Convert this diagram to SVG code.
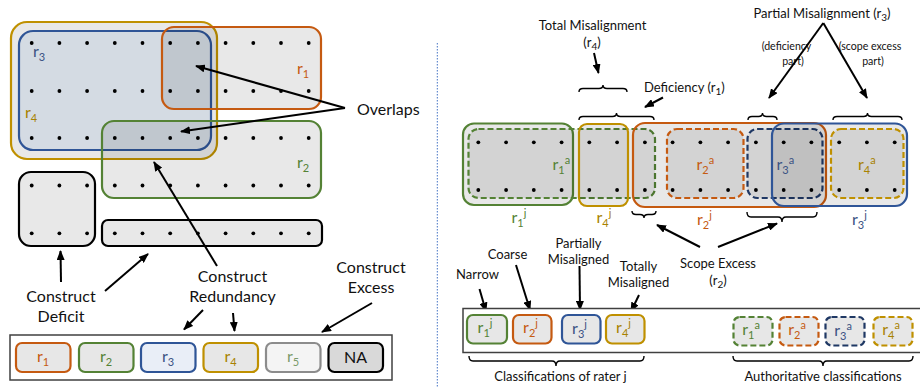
<svg xmlns="http://www.w3.org/2000/svg" width="920" height="390" viewBox="0 0 920 390">
<defs>
<marker id="ah" markerUnits="userSpaceOnUse" markerWidth="10" markerHeight="8" refX="9" refY="4" orient="auto">
<path d="M0,0 L10,4 L0,8 z" fill="#000"/>
</marker>
<style>
text{font-family:Lato,"Liberation Sans",sans-serif;fill:#111}
.t16{font-size:16px}
.t13{font-size:13px}
.t10{font-size:10px}
.small{font-size:10.6px}
.sub{font-size:11px}
.shade{fill:#000;fill-opacity:0.09}
.dot{fill:#000}
.arr{stroke:#000;stroke-width:2;fill:none;marker-end:url(#ah)}
.brace{stroke:#000;stroke-width:1.4;fill:none}
.or{stroke:#c55a11;stroke-width:2.2}
.gr{stroke:#548235;stroke-width:2.2}
.bl{stroke:#2f5597;stroke-width:2.2}
.go{stroke:#bf9000;stroke-width:2.2}
.nv{stroke:#1f3864;stroke-width:2.2}
.dash{stroke-dasharray:6,3}
.leg{fill:#e7e7e7}
.cor{fill:#c55a11}.cgr{fill:#548235}.cbl{fill:#3b5283}.cgo{fill:#a88200}
</style>
</defs>

<!-- LEFT PANEL -->
<g id="r4-region"><rect x="11" y="22" width="206" height="137" rx="16" class="shade go"/></g>
<g id="r3-region"><rect x="19" y="31" width="192" height="119" rx="14" fill="rgb(172,192,219)" fill-opacity="0.32" class="bl"/></g>
<g id="r1-region"><rect x="162" y="27" width="159" height="82" rx="12" class="shade or"/></g>
<g id="r2-region"><rect x="102" y="121" width="219" height="77" rx="12" class="shade gr"/></g>
<g id="deficit-box"><rect x="19" y="172" width="76" height="74" rx="12" fill="#e8e8e8" stroke="#000" stroke-width="2.2"/></g>
<g id="excess-bar"><rect x="102" y="220" width="220" height="26" rx="6" fill="#e8e8e8" stroke="#000" stroke-width="2.2"/></g>

<g id="left-dots">
<g transform="translate(0,43)">
<circle class="dot" cx="31.7" cy="0" r="1.9"/><circle class="dot" cx="59.4" cy="0" r="1.9"/><circle class="dot" cx="87.1" cy="0" r="1.9"/><circle class="dot" cx="114.8" cy="0" r="1.9"/><circle class="dot" cx="142.5" cy="0" r="1.9"/><circle class="dot" cx="170.2" cy="0" r="1.9"/><circle class="dot" cx="197.9" cy="0" r="1.9"/><circle class="dot" cx="225.6" cy="0" r="1.9"/><circle class="dot" cx="253.3" cy="0" r="1.9"/><circle class="dot" cx="281" cy="0" r="1.9"/><circle class="dot" cx="308.7" cy="0" r="1.9"/>
</g>
<g transform="translate(0,91)">
<circle class="dot" cx="31.7" cy="0" r="1.9"/><circle class="dot" cx="59.4" cy="0" r="1.9"/><circle class="dot" cx="87.1" cy="0" r="1.9"/><circle class="dot" cx="114.8" cy="0" r="1.9"/><circle class="dot" cx="142.5" cy="0" r="1.9"/><circle class="dot" cx="170.2" cy="0" r="1.9"/><circle class="dot" cx="197.9" cy="0" r="1.9"/><circle class="dot" cx="225.6" cy="0" r="1.9"/><circle class="dot" cx="253.3" cy="0" r="1.9"/><circle class="dot" cx="281" cy="0" r="1.9"/><circle class="dot" cx="308.7" cy="0" r="1.9"/>
</g>
<g transform="translate(0,138)">
<circle class="dot" cx="31.7" cy="0" r="1.9"/><circle class="dot" cx="59.4" cy="0" r="1.9"/><circle class="dot" cx="87.1" cy="0" r="1.9"/><circle class="dot" cx="114.8" cy="0" r="1.9"/><circle class="dot" cx="142.5" cy="0" r="1.9"/><circle class="dot" cx="170.2" cy="0" r="1.9"/><circle class="dot" cx="197.9" cy="0" r="1.9"/><circle class="dot" cx="225.6" cy="0" r="1.9"/><circle class="dot" cx="253.3" cy="0" r="1.9"/><circle class="dot" cx="281" cy="0" r="1.9"/><circle class="dot" cx="308.7" cy="0" r="1.9"/>
</g>
<g transform="translate(0,185.5)">
<circle class="dot" cx="31.7" cy="0" r="1.9"/><circle class="dot" cx="59.4" cy="0" r="1.9"/><circle class="dot" cx="87.1" cy="0" r="1.9"/><circle class="dot" cx="114.8" cy="0" r="1.9"/><circle class="dot" cx="142.5" cy="0" r="1.9"/><circle class="dot" cx="170.2" cy="0" r="1.9"/><circle class="dot" cx="197.9" cy="0" r="1.9"/><circle class="dot" cx="225.6" cy="0" r="1.9"/><circle class="dot" cx="253.3" cy="0" r="1.9"/><circle class="dot" cx="281" cy="0" r="1.9"/><circle class="dot" cx="308.7" cy="0" r="1.9"/>
</g>
<g transform="translate(0,233.3)">
<circle class="dot" cx="31.7" cy="0" r="1.9"/><circle class="dot" cx="59.4" cy="0" r="1.9"/><circle class="dot" cx="87.1" cy="0" r="1.9"/><circle class="dot" cx="114.8" cy="0" r="1.9"/><circle class="dot" cx="142.5" cy="0" r="1.9"/><circle class="dot" cx="170.2" cy="0" r="1.9"/><circle class="dot" cx="197.9" cy="0" r="1.9"/><circle class="dot" cx="225.6" cy="0" r="1.9"/><circle class="dot" cx="253.3" cy="0" r="1.9"/><circle class="dot" cx="281" cy="0" r="1.9"/><circle class="dot" cx="308.7" cy="0" r="1.9"/>
</g>
</g>

<g id="left-region-labels" class="t16">
<text x="33" y="57" class="cbl">r<tspan class="sub" dy="4">3</tspan></text>
<text x="25" y="118" class="cgo">r<tspan class="sub" dy="4">4</tspan></text>
<text x="297" y="74" class="cor">r<tspan class="sub" dy="4">1</tspan></text>
<text x="297" y="168" class="cgr">r<tspan class="sub" dy="4">2</tspan></text>
</g>

<g id="left-labels" class="t16">
<text x="357" y="115">Overlaps</text>
<text x="61" y="302" text-anchor="middle">Construct</text>
<text x="61" y="322" text-anchor="middle">Deficit</text>
<text x="232.5" y="282" text-anchor="middle">Construct</text>
<text x="232.5" y="302" text-anchor="middle">Redundancy</text>
<text x="371" y="273" text-anchor="middle">Construct</text>
<text x="371" y="293" text-anchor="middle">Excess</text>
</g>

<g id="left-connectors">
<line class="arr" x1="345" y1="108" x2="196" y2="66"/>
<line class="arr" x1="345" y1="108" x2="181" y2="131.5"/>
<line class="arr" x1="217" y1="266" x2="154" y2="162"/>
<line class="arr" x1="61" y1="282" x2="60.5" y2="251"/>
<line class="arr" x1="105" y1="291" x2="148" y2="254"/>
<line class="arr" x1="203" y1="310" x2="184" y2="329.5"/>
<line class="arr" x1="233" y1="313" x2="234.5" y2="331"/>
<line class="arr" x1="372" y1="303" x2="322" y2="332"/>
</g>

<g id="left-legend">
<rect x="10" y="335" width="382" height="45" fill="#fff" stroke="#404040" stroke-width="1.5"/>
<g id="leg-r1"><rect x="16" y="343" width="54.5" height="29" rx="6" class="leg or"/><text x="43" y="362" text-anchor="middle" class="t16 cor">r<tspan class="sub" dy="4">1</tspan></text></g>
<g id="leg-r2"><rect x="79" y="343" width="54.5" height="29" rx="6" class="leg gr"/><text x="106" y="362" text-anchor="middle" class="t16 cgr">r<tspan class="sub" dy="4">2</tspan></text></g>
<g id="leg-r3"><rect x="141" y="343" width="54.5" height="29" rx="6" fill="#e9eef7" class="bl"/><text x="168" y="362" text-anchor="middle" class="t16 cbl">r<tspan class="sub" dy="4">3</tspan></text></g>
<g id="leg-r4"><rect x="203.5" y="343" width="54.5" height="29" rx="6" class="leg go"/><text x="230.5" y="362" text-anchor="middle" class="t16 cgo">r<tspan class="sub" dy="4">4</tspan></text></g>
<g id="leg-r5"><rect x="266" y="343" width="54.5" height="29" rx="6" fill="#f4f4f4" stroke="#8c8c8c" stroke-width="2.2"/><text x="293" y="362" text-anchor="middle" class="t16" style="fill:#7a9a6a">r<tspan class="sub" dy="4">5</tspan></text></g>
<g id="leg-na"><rect x="328.5" y="343" width="54.5" height="29" rx="6" fill="#d9d9d9" stroke="#000" stroke-width="2.2"/><text x="355.5" y="363" text-anchor="middle" class="t16">NA</text></g>
</g>

<!-- separator -->
<line x1="437.3" y1="43" x2="437.3" y2="388" stroke="#4472c4" stroke-width="1" stroke-dasharray="1.5,1.5"/>

<!-- RIGHT PANEL -->
<g id="r1j"><rect x="463" y="123.5" width="110" height="81.5" rx="11" class="shade gr"/></g>
<g id="r1a"><rect x="468.5" y="129" width="186.5" height="69" rx="10" class="shade gr dash"/></g>
<g id="r4j"><rect x="579" y="124" width="49" height="82" rx="8" class="shade go"/></g>
<g id="r2j"><rect x="633" y="123" width="193" height="84" rx="12" class="shade or"/></g>
<g id="r2a"><rect x="667" y="129" width="76.5" height="69" rx="10" class="shade or dash"/></g>
<g id="r3a"><rect x="747.5" y="129" width="75" height="69" rx="10" class="shade nv dash"/></g>
<g id="r3j"><rect x="772" y="123.5" width="135" height="82.5" rx="12" class="shade bl"/></g>
<g id="r4a"><rect x="831" y="129" width="72.5" height="69" rx="10" class="shade go dash"/></g>

<g id="right-dots">
<g transform="translate(0,142.3)">
<circle class="dot" cx="478.3" cy="0" r="1.9"/><circle class="dot" cx="506.1" cy="0" r="1.9"/><circle class="dot" cx="533.8" cy="0" r="1.9"/><circle class="dot" cx="561.6" cy="0" r="1.9"/><circle class="dot" cx="589.3" cy="0" r="1.9"/><circle class="dot" cx="617.1" cy="0" r="1.9"/><circle class="dot" cx="644.9" cy="0" r="1.9"/><circle class="dot" cx="672.6" cy="0" r="1.9"/><circle class="dot" cx="700.4" cy="0" r="1.9"/><circle class="dot" cx="728.1" cy="0" r="1.9"/><circle class="dot" cx="755.9" cy="0" r="1.9"/><circle class="dot" cx="783.7" cy="0" r="1.9"/><circle class="dot" cx="811.4" cy="0" r="1.9"/><circle class="dot" cx="839.2" cy="0" r="1.9"/><circle class="dot" cx="866.9" cy="0" r="1.9"/><circle class="dot" cx="894.7" cy="0" r="1.9"/>
</g>
<g transform="translate(0,190)">
<circle class="dot" cx="478.3" cy="0" r="1.9"/><circle class="dot" cx="506.1" cy="0" r="1.9"/><circle class="dot" cx="533.8" cy="0" r="1.9"/><circle class="dot" cx="561.6" cy="0" r="1.9"/><circle class="dot" cx="589.3" cy="0" r="1.9"/><circle class="dot" cx="617.1" cy="0" r="1.9"/><circle class="dot" cx="644.9" cy="0" r="1.9"/><circle class="dot" cx="672.6" cy="0" r="1.9"/><circle class="dot" cx="700.4" cy="0" r="1.9"/><circle class="dot" cx="728.1" cy="0" r="1.9"/><circle class="dot" cx="755.9" cy="0" r="1.9"/><circle class="dot" cx="783.7" cy="0" r="1.9"/><circle class="dot" cx="811.4" cy="0" r="1.9"/><circle class="dot" cx="839.2" cy="0" r="1.9"/><circle class="dot" cx="866.9" cy="0" r="1.9"/><circle class="dot" cx="894.7" cy="0" r="1.9"/>
</g>
</g>

<g id="strip-labels" class="t16">
<text x="552.5" y="170" class="cgr">r<tspan class="sub" dy="4">1</tspan><tspan class="sub" dy="-10">a</tspan></text>
<text x="696.5" y="170" class="cor">r<tspan class="sub" dy="4">2</tspan><tspan class="sub" dy="-10">a</tspan></text>
<text x="776.5" y="170" class="cbl">r<tspan class="sub" dy="4">3</tspan><tspan class="sub" dy="-10">a</tspan></text>
<text x="858" y="170" class="cgo">r<tspan class="sub" dy="4">4</tspan><tspan class="sub" dy="-10">a</tspan></text>
<text x="511.5" y="223" class="cgr">r<tspan class="sub" dy="4">1</tspan><tspan class="sub" dy="-10">j</tspan></text>
<text x="596.5" y="223" class="cgo">r<tspan class="sub" dy="4">4</tspan><tspan class="sub" dy="-10">j</tspan></text>
<text x="697" y="225" class="cor">r<tspan class="sub" dy="4">2</tspan><tspan class="sub" dy="-10">j</tspan></text>
<text x="852" y="225" class="cbl">r<tspan class="sub" dy="4">3</tspan><tspan class="sub" dy="-10">j</tspan></text>
</g>

<g id="braces">
<path class="brace" d="M579,92 Q579,88.5 583,88.5 L599,88.5 Q603,88.5 603,85 Q603,88.5 607,88.5 L623,88.5 Q627,88.5 627,92"/>
<path class="brace" d="M579,120 Q579,116.5 583,116.5 L612.5,116.5 Q616.5,116.5 616.5,113 Q616.5,116.5 620.5,116.5 L650,116.5 Q654,116.5 654,120"/>
<path class="brace" d="M748,120 Q748,116.5 752,116.5 L758.5,116.5 Q762.5,116.5 762.5,113 Q762.5,116.5 766.5,116.5 L773,116.5 Q777,116.5 777,120"/>
<path class="brace" d="M833,120 Q833,116.5 837,116.5 L863.5,116.5 Q867.5,116.5 867.5,113 Q867.5,116.5 871.5,116.5 L898,116.5 Q902,116.5 902,120"/>
<path class="brace" d="M632,211 Q632,214.5 636,214.5 L640,214.5 Q644,214.5 644,218 Q644,214.5 648,214.5 L652,214.5 Q656,214.5 656,211"/>
<path class="brace" d="M747,212 Q747,217 751,217 L778,217 Q782,217 782,222 Q782,217 786,217 L813,217 Q817,217 817,212"/>
<path class="brace" d="M469,356 Q469,361 473,361 L552,361 Q556,361 556,366 Q556,361 560,361 L640,361 Q644,361 644,356"/>
<path class="brace" d="M733,356 Q733,361 737,361 L819,361 Q823,361 823,366 Q823,361 827,361 L909,361 Q913,361 913,356"/>
</g>

<g id="right-labels" class="t13">
<text x="592.5" y="30" text-anchor="middle">Total Misalignment</text>
<text x="592" y="47" text-anchor="middle">(r<tspan class="t10" dy="3">4</tspan><tspan dy="-3">)</tspan></text>
<text x="644" y="92">Deficiency (r<tspan class="t10" dy="3">1</tspan><tspan dy="-3">)</tspan></text>
<text x="822" y="18" text-anchor="middle">Partial Misalignment (r<tspan class="t10" dy="3">3</tspan><tspan dy="-3">)</tspan></text>
<text x="786.5" y="50" text-anchor="middle" class="small">(deficiency</text>
<text x="793" y="65" text-anchor="middle" class="small">part)</text>
<text x="870" y="50" text-anchor="middle" class="small">(scope excess</text>
<text x="873" y="65" text-anchor="middle" class="small">part)</text>
<text x="718" y="268" text-anchor="middle">Scope Excess</text>
<text x="718" y="285" text-anchor="middle">(r<tspan class="t10" dy="3">2</tspan><tspan dy="-3">)</tspan></text>
<text x="477.5" y="279" text-anchor="middle">Narrow</text>
<text x="507.5" y="259" text-anchor="middle">Coarse</text>
<text x="578.5" y="247.5" text-anchor="middle">Partially</text>
<text x="578.5" y="264" text-anchor="middle">Misaligned</text>
<text x="638.5" y="271" text-anchor="middle">Totally</text>
<text x="638.5" y="287" text-anchor="middle">Misaligned</text>
<text x="560.5" y="381" text-anchor="middle">Classifications of rater j</text>
<text x="823" y="381" text-anchor="middle">Authoritative classifications</text>
</g>

<g id="right-connectors">
<line class="arr" x1="594" y1="53" x2="598.5" y2="73"/>
<line class="arr" x1="663" y1="97.5" x2="645" y2="107"/>
<line class="arr" x1="823.3" y1="23" x2="769" y2="98"/>
<line class="arr" x1="823.3" y1="23" x2="867" y2="98"/>
<line class="arr" x1="700" y1="247" x2="657" y2="225"/>
<line class="arr" x1="718" y1="247" x2="777" y2="223.5"/>
<line class="arr" x1="479.5" y1="289" x2="486" y2="311.5"/>
<line class="arr" x1="516" y1="265" x2="530" y2="310"/>
<line class="arr" x1="579.5" y1="266" x2="580" y2="310"/>
<line class="arr" x1="639" y1="295" x2="631" y2="311.5"/>
</g>

<g id="right-legend">
<rect x="463" y="308.5" width="465" height="44" fill="#fff" stroke="#404040" stroke-width="1.5"/>
<g id="leg-r1j"><rect x="467" y="315" width="40" height="28.5" rx="6" class="leg gr"/><text x="485" y="333" text-anchor="middle" class="t16 cgr">r<tspan class="sub" dy="4">1</tspan><tspan class="sub" dy="-10">j</tspan></text></g>
<g id="leg-r2j"><rect x="513" y="315" width="38.5" height="28.5" rx="6" class="leg or"/><text x="530.5" y="333" text-anchor="middle" class="t16 cor">r<tspan class="sub" dy="4">2</tspan><tspan class="sub" dy="-10">j</tspan></text></g>
<g id="leg-r3j"><rect x="562" y="315" width="38.5" height="28.5" rx="6" class="leg bl"/><text x="579.5" y="334" text-anchor="middle" class="t16 cbl">r<tspan class="sub" dy="4">3</tspan><tspan class="sub" dy="-10">j</tspan></text></g>
<g id="leg-r4j"><rect x="606" y="315" width="38.5" height="28.5" rx="6" class="leg go"/><text x="623.5" y="333" text-anchor="middle" class="t16 cgo">r<tspan class="sub" dy="4">4</tspan><tspan class="sub" dy="-10">j</tspan></text></g>
<g id="leg-r1a"><rect x="733.5" y="317" width="39" height="28.5" rx="6" class="leg gr dash"/><text x="751" y="335" text-anchor="middle" class="t16 cgr">r<tspan class="sub" dy="4">1</tspan><tspan class="sub" dy="-10">a</tspan></text></g>
<g id="leg-r2a"><rect x="779.5" y="317" width="39" height="28.5" rx="6" class="leg or dash"/><text x="797" y="335" text-anchor="middle" class="t16 cor">r<tspan class="sub" dy="4">2</tspan><tspan class="sub" dy="-10">a</tspan></text></g>
<g id="leg-r3a"><rect x="825.5" y="317" width="39" height="28.5" rx="6" class="leg nv dash"/><text x="843" y="336" text-anchor="middle" class="t16 cbl">r<tspan class="sub" dy="4">3</tspan><tspan class="sub" dy="-10">a</tspan></text></g>
<g id="leg-r4a"><rect x="873.5" y="317" width="39" height="28.5" rx="6" class="leg go dash"/><text x="891" y="335" text-anchor="middle" class="t16 cgo">r<tspan class="sub" dy="4">4</tspan><tspan class="sub" dy="-10">a</tspan></text></g>
</g>
</svg>
